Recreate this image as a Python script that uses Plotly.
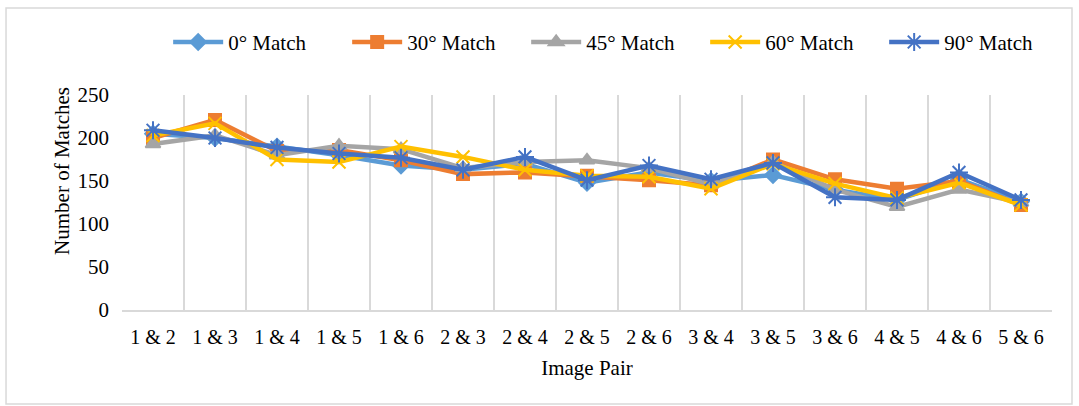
import plotly.graph_objects as go

# Image pairs compared and the match counts for each rotation angle
pairs = ["1 & 2", "1 & 3", "1 & 4", "1 & 5", "1 & 6", "2 & 3", "2 & 4", "2 & 5",
         "2 & 6", "3 & 4", "3 & 5", "3 & 6", "4 & 5", "4 & 6", "5 & 6"]

match_0 = [205, 200, 190, 180, 168, 163, 170, 148, 160, 150, 157, 140, 128, 152, 126]
match_30 = [200, 221, 185, 186, 174, 158, 160, 156, 151, 145, 175, 152, 141, 150, 122]
match_45 = [193, 203, 180, 191, 187, 165, 172, 174, 165, 146, 172, 140, 120, 140, 125]
match_60 = [203, 217, 175, 172, 190, 178, 163, 156, 155, 141, 170, 147, 130, 148, 122]
match_90 = [209, 200, 189, 182, 177, 163, 178, 151, 168, 152, 171, 131, 128, 160, 128]

series = [
    ("0° Match", match_0, "#5B9BD5", "diamond", 12),
    ("30° Match", match_30, "#ED7D31", "square", 12),
    ("45° Match", match_45, "#A5A5A5", "triangle-up", 13),
    ("60° Match", match_60, "#FFC000", "x-thin-open", 13),
    ("90° Match", match_90, "#4472C4", "asterisk-open", 15),
]

FONT = "Liberation Serif, Times New Roman, serif"

fig = go.Figure()
for name, vals, color, symbol, size in series:
    fig.add_trace(go.Scatter(
        x=pairs, y=vals, name=name, mode="lines+markers",
        line=dict(color=color, width=4.5),
        marker=dict(symbol=symbol, size=size, color=color,
                    line=dict(color=color, width=2)),
    ))

# Outer chart border
fig.add_shape(type="rect", xref="paper", yref="paper",
              x0=-0.1247, x1=1.0215, y0=-0.437, y1=1.4047,
              line=dict(color="#D9D9D9", width=1.5), fillcolor="rgba(0,0,0,0)")

# Value axis title, placed a little above the plot's vertical centre
fig.add_annotation(text="Number of Matches", xref="paper", yref="paper",
                   x=-0.0645, y=0.647, textangle=-90, showarrow=False,
                   xanchor="center", yanchor="middle",
                   font=dict(family=FONT, size=21, color="#000000"))

fig.update_layout(
    width=1079, height=406,
    margin=dict(l=122, r=27, t=95, b=96),
    paper_bgcolor="white", plot_bgcolor="white",
    font=dict(family=FONT, size=21, color="#000000"),
    showlegend=True,
    legend=dict(orientation="h", x=1.012, xanchor="right", y=1.245, yanchor="middle",
                font=dict(family=FONT, size=21), itemwidth=50,
                entrywidth=114, entrywidthmode="pixels",
                tracegroupgap=0, bgcolor="rgba(0,0,0,0)"),
    xaxis=dict(
        type="category", tickson="boundaries", showgrid=True,
        gridcolor="#D9D9D9", gridwidth=1.5,
        showline=True, linecolor="#D9D9D9", linewidth=1.5,
        ticks="", tickfont=dict(family=FONT, size=20), ticklabelstandoff=8,
        title=dict(text="Image Pair", font=dict(family=FONT, size=21), standoff=14),
        range=[-0.5, 14.5],
    ),
    yaxis=dict(
        range=[0, 250], dtick=50, showgrid=False, zeroline=False,
        showline=False, ticks="", tickfont=dict(family=FONT, size=21),
        ticklabelstandoff=12,
    ),
)

fig.write_html("out.html")
